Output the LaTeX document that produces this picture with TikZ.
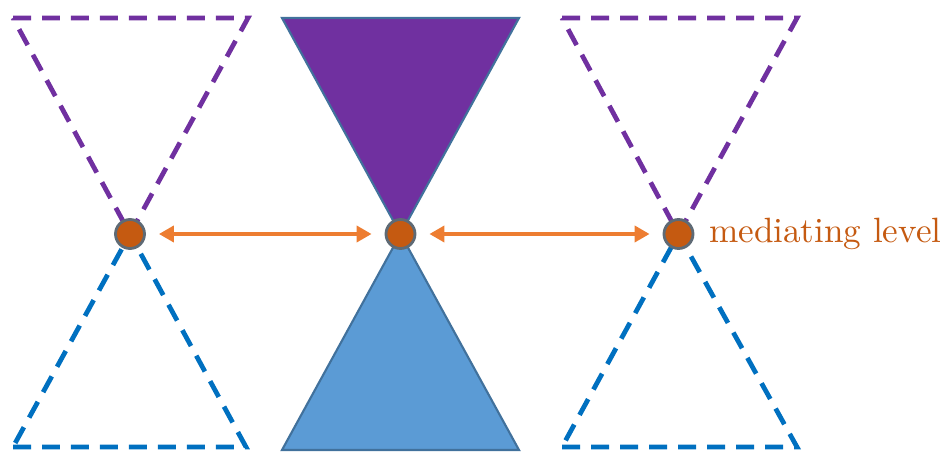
\documentclass[tikz,border=0pt]{standalone}
\usepackage{tikz}
\usetikzlibrary{arrows.meta,positioning}

\definecolor{levpurple}{HTML}{7030A0}
\definecolor{levblue}{HTML}{0070C0}
\definecolor{levfill}{HTML}{5B9BD5}
\definecolor{levedge}{HTML}{41719C}
\definecolor{levdot}{HTML}{C55A11}
\definecolor{levring}{HTML}{5E6A75}
\definecolor{levarrow}{HTML}{ED7D31}

\begin{document}
\begin{tikzpicture}[
    dot/.style={circle, fill=levdot, draw=levring, line width=0.8pt, minimum size=0.29cm, inner sep=0pt},
    ghost/.style={line width=1.35pt, dash pattern=on 0.18cm off 0.11cm, line join=miter},
    cone/.style={draw=levedge, line width=0.6pt, line join=miter},
    link/.style={{Triangle[length=0.15cm, width=0.16cm]}-{Triangle[length=0.15cm, width=0.16cm]}, levarrow, line width=1.2pt, shorten <=0.13cm, shorten >=0.13cm}
  ]
  \useasboundingbox (0,0) rectangle (9.44,4.53);

  % Cones
  \draw[ghost, levpurple] (0.13,4.35) -- (2.48,4.35) -- (1.30,2.19) -- cycle;
  \draw[ghost, levblue] (0.13,0.06) -- (2.46,0.06) -- (1.30,2.19) -- cycle;
  \fill[cone, fill=levpurple] (2.82,4.35) -- (5.19,4.35) -- (4.005,2.19) -- cycle;
  \fill[cone, fill=levfill] (2.82,0.03) -- (5.19,0.03) -- (4.005,2.19) -- cycle;
  \draw[ghost, levpurple] (5.62,4.35) -- (7.97,4.35) -- (6.785,2.19) -- cycle;
  \draw[ghost, levblue] (5.62,0.06) -- (7.97,0.06) -- (6.785,2.19) -- cycle;

  % Nodes
  \node[dot] (left) at (1.30,2.19) {};
  \node[dot] (mid) at (4.005,2.19) {};
  \node[dot] (right) at (6.785,2.19) {};
  \node[right=0.14cm of right, inner sep=0pt, text=levdot] (label) {mediating level};

  % Arrows
  \draw[link] (left) -- (mid);
  \draw[link] (mid) -- (right);
\end{tikzpicture}
\end{document}
